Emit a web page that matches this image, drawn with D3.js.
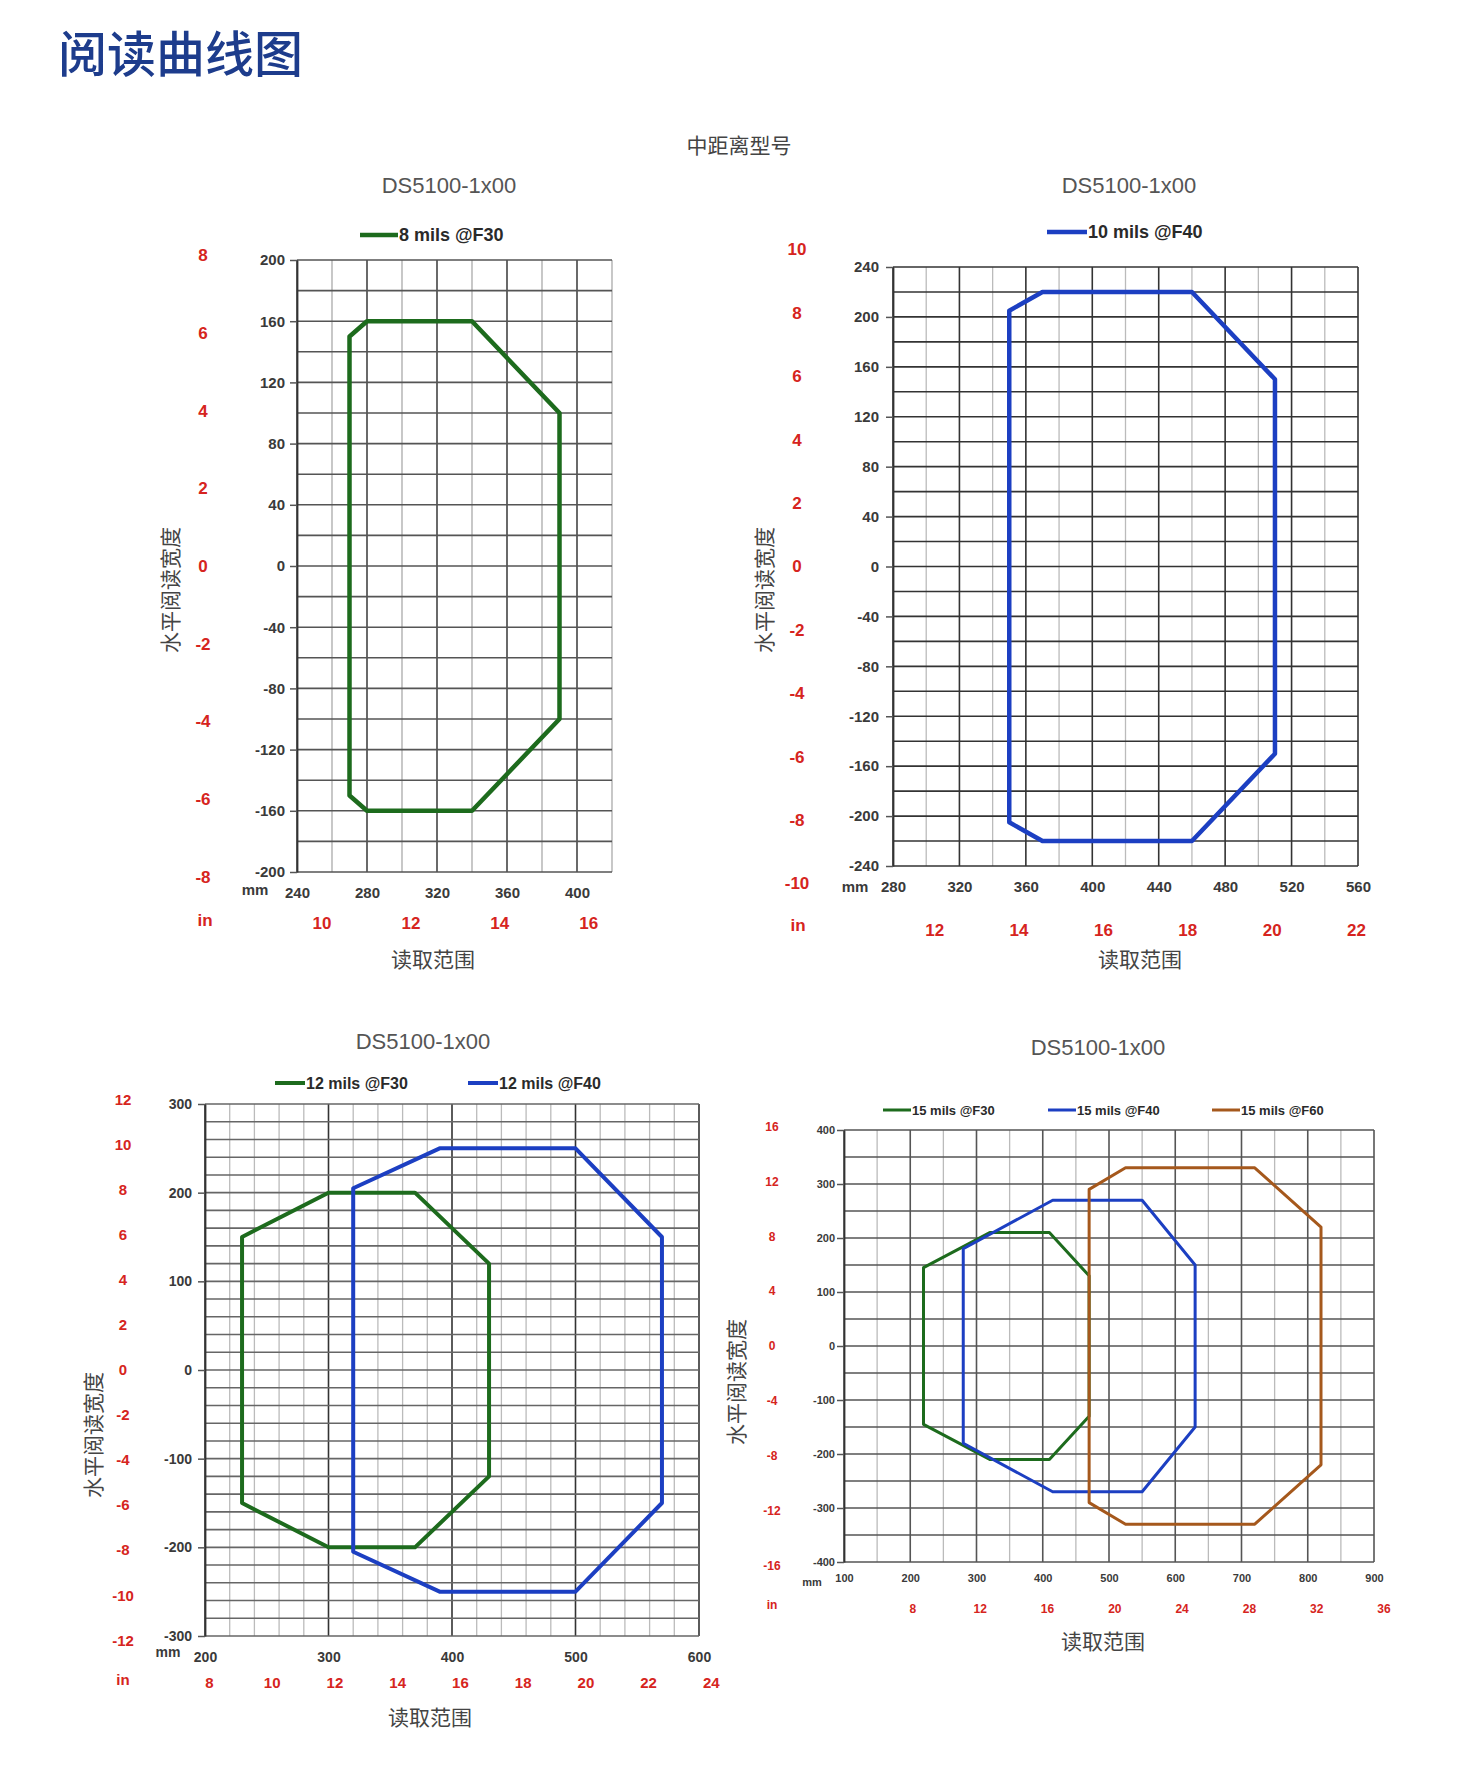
<!DOCTYPE html>
<html>
<head>
<meta charset="utf-8">
<script src="https://cdn.jsdelivr.net/npm/d3@7"></script>
<style>
  body { margin: 0; background: #fff; }
  svg { display: block; }
</style>
</head>
<body>
<svg id="chart" width="1471" height="1777"></svg>
<script>
// ---- 数据 ----
// 图1 : 8 mils
const c1Series = ["8 mils @F30"];
const c1F30 = [[270, 150], [280, 160], [340, 160], [390, 100], [390, -100], [340, -160], [280, -160], [270, -150]];
const c1MmX = [240, 280, 320, 360, 400];
const c1MmY = [200, 160, 120, 80, 40, 0, -40, -80, -120, -160, -200];
const c1InX = [10, 12, 14, 16];
const c1InY = [8, 6, 4, 2, 0, -2, -4, -6, -8];

// 图2 : 10 mils
const c2Series = ["10 mils @F40"];
const c2F40 = [[350, 205], [370, 220], [460, 220], [510, 150], [510, -150], [460, -220], [370, -220], [350, -205]];
const c2MmX = [280, 320, 360, 400, 440, 480, 520, 560];
const c2MmY = [240, 200, 160, 120, 80, 40, 0, -40, -80, -120, -160, -200, -240];
const c2InX = [12, 14, 16, 18, 20, 22];
const c2InY = [10, 8, 6, 4, 2, 0, -2, -4, -6, -8, -10];

// 图3 : 12 mils
const c3Series = ["12 mils @F30", "12 mils @F40"];
const c3F30 = [[230, 150], [300, 200], [370, 200], [430, 120], [430, -120], [370, -200], [300, -200], [230, -150]];
const c3F40 = [[320, 205], [390, 250], [500, 250], [570, 150], [570, -150], [500, -250], [390, -250], [320, -205]];
const c3MmX = [200, 300, 400, 500, 600];
const c3MmY = [300, 200, 100, 0, -100, -200, -300];
const c3InX = [8, 10, 12, 14, 16, 18, 20, 22, 24];
const c3InY = [12, 10, 8, 6, 4, 2, 0, -2, -4, -6, -8, -10, -12];

// 图4 : 15 mils
const c4Series = ["15 mils @F30", "15 mils @F40", "15 mils @F60"];
const c4F30 = [[220, 145], [320, 210], [410, 210], [470, 130], [470, -130], [410, -210], [320, -210], [220, -145]];
const c4F40 = [[280, 180], [415, 270], [550, 270], [630, 150], [630, -150], [550, -270], [415, -270], [280, -180]];
const c4F60 = [[470, 290], [525, 330], [720, 330], [820, 220], [820, -220], [720, -330], [525, -330], [470, -290]];
const c4MmX = [100, 200, 300, 400, 500, 600, 700, 800, 900];
const c4MmY = [400, 300, 200, 100, 0, -100, -200, -300, -400];
const c4InX = [8, 12, 16, 20, 24, 28, 32, 36];
const c4InY = [16, 12, 8, 4, 0, -4, -8, -12, -16];

const MM_PER_IN = 25.4;
const GREEN = "#1d6b1d", BLUE = "#1c3fc2", BROWN = "#a5581c";
const NUM_FONT = "'Liberation Sans', Arial, sans-serif";
const CJK_FONT = "'Noto Sans CJK SC', sans-serif";
const plain = d => String(d);   // 原图用普通连字符作负号

const svg = d3.select("#chart");
svg.append("rect").attr("width", 1471).attr("height", 1777).attr("fill", "#fff");

svg.append("text")
    .attr("x", 58).attr("y", 72)
    .attr("font-family", CJK_FONT).attr("font-size", 49).attr("font-weight", 500)
    .attr("fill", "#1d3c8c")
    .text("阅读曲线图");

svg.append("text")
    .attr("x", 739).attr("y", 153)
    .attr("text-anchor", "middle")
    .attr("font-family", CJK_FONT).attr("font-size", 21)
    .attr("fill", "#444")
    .text("中距离型号");

function drawChart(cfg) {
    const g = svg.append("g");
    const x = d3.scaleLinear().domain(cfg.xDomain).range([cfg.left, cfg.right]);
    const y = d3.scaleLinear().domain(cfg.yDomain).range([cfg.bottom, cfg.top]);
    const xIn = d3.scaleLinear().domain(cfg.xDomain.map(d => d / MM_PER_IN)).range(x.range());
    const yIn = d3.scaleLinear().domain(cfg.yDomain.map(d => d / MM_PER_IN)).range(y.range());

    // 网格
    const vLines = d3.range(cfg.xDomain[0], cfg.xDomain[1] + 0.001, cfg.xStep);
    const hLines = d3.range(cfg.yDomain[0], cfg.yDomain[1] + 0.001, cfg.yStep);
    g.append("g").selectAll("line").data(vLines).join("line")
        .attr("x1", d => x(d)).attr("x2", d => x(d))
        .attr("y1", cfg.top).attr("y2", cfg.bottom)
        .attr("stroke", d => (d - cfg.xDomain[0]) % cfg.xMajor === 0 ? cfg.vMajor : cfg.vMinor)
        .attr("stroke-width", d => (d - cfg.xDomain[0]) % cfg.xMajor === 0 ? 1.6 : 1.3);
    g.append("g").selectAll("line").data(hLines).join("line")
        .attr("x1", cfg.left).attr("x2", cfg.right)
        .attr("y1", d => y(d)).attr("y2", d => y(d))
        .attr("stroke", cfg.hColor)
        .attr("stroke-width", 1.6);

    // 左侧 mm 轴
    const tick = 7;
    g.append("g")
        .attr("transform", `translate(${cfg.left},0)`)
        .call(d3.axisLeft(y).tickValues(cfg.mmY).tickFormat(plain).tickSize(tick).tickSizeOuter(0)
            .tickPadding(cfg.left - cfg.yLabelX - tick))
        .call(a => a.select(".domain").attr("stroke", "#333").attr("stroke-width", 1.8))
        .call(a => a.selectAll(".tick line").attr("stroke", "#555").attr("stroke-width", 1.5))
        .call(a => a.selectAll("text")
            .attr("font-family", NUM_FONT).attr("font-size", cfg.tickFont)
            .attr("font-weight", "bold").attr("fill", "#3a3a3a"));

    // 底部 mm 轴
    g.append("g")
        .attr("transform", `translate(0,${cfg.xLabelY})`)
        .call(d3.axisBottom(x).tickValues(cfg.mmX).tickSize(0).tickFormat(plain))
        .call(a => a.select(".domain").remove())
        .call(a => a.selectAll("text")
            .attr("y", 0).attr("dy", "0.35em")
            .attr("font-family", NUM_FONT).attr("font-size", cfg.tickFont)
            .attr("font-weight", "bold").attr("fill", "#3a3a3a"));

    // 英寸轴（红色）
    g.append("g")
        .attr("transform", `translate(${cfg.inYX},0)`)
        .call(d3.axisLeft(yIn).tickValues(cfg.inY).tickFormat(plain).tickSize(0).tickPadding(0))
        .call(a => a.select(".domain").remove())
        .call(a => a.selectAll("text")
            .attr("x", 0).attr("text-anchor", "middle")
            .attr("font-family", NUM_FONT).attr("font-size", cfg.inFont)
            .attr("font-weight", "bold").attr("fill", "#d62420"));
    g.append("g")
        .attr("transform", `translate(0,${cfg.inXLabelY})`)
        .call(d3.axisBottom(xIn).tickValues(cfg.inX).tickFormat(plain).tickSize(0))
        .call(a => a.select(".domain").remove())
        .call(a => a.selectAll("text")
            .attr("y", 0).attr("dy", "0.35em")
            .attr("font-family", NUM_FONT).attr("font-size", cfg.inFont)
            .attr("font-weight", "bold").attr("fill", "#d62420"));

    // 单位
    g.append("text")
        .attr("x", cfg.mmPos[0]).attr("y", cfg.mmPos[1]).attr("dy", "0.35em")
        .attr("text-anchor", "middle")
        .attr("font-family", NUM_FONT).attr("font-size", cfg.tickFont).attr("font-weight", "bold")
        .attr("fill", "#3a3a3a").text("mm");
    g.append("text")
        .attr("x", cfg.inPos[0]).attr("y", cfg.inPos[1]).attr("dy", "0.35em")
        .attr("text-anchor", "middle")
        .attr("font-family", NUM_FONT).attr("font-size", cfg.inFont).attr("font-weight", "bold")
        .attr("fill", "#d62420").text("in");

    // 标题
    g.append("text")
        .attr("x", cfg.titlePos[0]).attr("y", cfg.titlePos[1]).attr("dy", "0.35em")
        .attr("text-anchor", "middle")
        .attr("font-family", NUM_FONT).attr("font-size", 22)
        .attr("fill", "#555").text("DS5100-1x00");
    g.append("text")
        .attr("x", cfg.xTitlePos[0]).attr("y", cfg.xTitlePos[1]).attr("dy", "0.35em")
        .attr("text-anchor", "middle")
        .attr("font-family", CJK_FONT).attr("font-size", 21)
        .attr("fill", "#444").text("读取范围");
    g.append("text")
        .attr("transform", `translate(${cfg.yTitlePos[0]},${cfg.yTitlePos[1]}) rotate(-90)`)
        .attr("dy", "0.35em")
        .attr("text-anchor", "middle")
        .attr("font-family", CJK_FONT).attr("font-size", 21)
        .attr("fill", "#444").text("水平阅读宽度");

    // 曲线
    const line = d3.line()
        .x(d => x(d[0])).y(d => y(d[1]))
        .curve(d3.curveLinearClosed);
    cfg.series.forEach((s, i) => {
        g.append("path")
            .attr("d", line(s.points))
            .attr("fill", "none")
            .attr("stroke", s.color)
            .attr("stroke-width", cfg.lineWidth)
            .attr("stroke-linejoin", "round");

        // 图例
        const lx = cfg.legendX[i];
        g.append("line")
            .attr("x1", lx).attr("x2", lx + cfg.legendLen)
            .attr("y1", cfg.legendY).attr("y2", cfg.legendY)
            .attr("stroke", s.color).attr("stroke-width", cfg.lineWidth);
        g.append("text")
            .attr("x", lx + cfg.legendLen + 1).attr("y", cfg.legendY).attr("dy", "0.35em")
            .attr("font-family", NUM_FONT).attr("font-size", cfg.legendFont).attr("font-weight", "bold")
            .attr("fill", "#2a2a2a").text(s.name);
    });
}

drawChart({
    left: 297, right: 612, top: 260, bottom: 872,
    xDomain: [240, 420], yDomain: [-200, 200], xStep: 20, xMajor: 40, yStep: 20,
    hColor: "#555", vMajor: "#444", vMinor: "#aaa",
    mmX: c1MmX, mmY: c1MmY, inX: c1InX, inY: c1InY,
    yLabelX: 285, xLabelY: 893, inYX: 203, inXLabelY: 923,
    mmPos: [255, 890], inPos: [205, 920],
    titlePos: [449, 185], xTitlePos: [433, 960], yTitlePos: [171, 590],
    tickFont: 15, inFont: 17, legendFont: 18, lineWidth: 4.5,
    legendY: 235, legendX: [360], legendLen: 38,
    series: [{ name: c1Series[0], points: c1F30, color: GREEN }]
});

drawChart({
    left: 893, right: 1358, top: 267, bottom: 866,
    xDomain: [280, 560], yDomain: [-240, 240], xStep: 20, xMajor: 40, yStep: 20,
    hColor: "#333", vMajor: "#333", vMinor: "#bbb",
    mmX: c2MmX, mmY: c2MmY, inX: c2InX, inY: c2InY,
    yLabelX: 879, xLabelY: 887, inYX: 797, inXLabelY: 930,
    mmPos: [855, 887], inPos: [798, 925],
    titlePos: [1129, 185], xTitlePos: [1140, 960], yTitlePos: [765, 590],
    tickFont: 15, inFont: 17, legendFont: 18, lineWidth: 4.5,
    legendY: 232, legendX: [1047], legendLen: 40,
    series: [{ name: c2Series[0], points: c2F40, color: BLUE }]
});

drawChart({
    left: 205, right: 699, top: 1104, bottom: 1636,
    xDomain: [200, 600], yDomain: [-300, 300], xStep: 20, xMajor: 100, yStep: 20,
    hColor: "#666", vMajor: "#333", vMinor: "#bbb",
    mmX: c3MmX, mmY: c3MmY, inX: c3InX, inY: c3InY,
    yLabelX: 192, xLabelY: 1657, inYX: 123, inXLabelY: 1683,
    mmPos: [168, 1652], inPos: [123, 1680],
    titlePos: [423, 1041], xTitlePos: [430, 1718], yTitlePos: [94, 1435],
    tickFont: 14, inFont: 15, legendFont: 16, lineWidth: 4,
    legendY: 1083, legendX: [275, 468], legendLen: 30,
    series: [
        { name: c3Series[0], points: c3F30, color: GREEN },
        { name: c3Series[1], points: c3F40, color: BLUE }
    ]
});

drawChart({
    left: 844, right: 1374, top: 1130, bottom: 1562,
    xDomain: [100, 900], yDomain: [-400, 400], xStep: 50, xMajor: 100, yStep: 50,
    hColor: "#555", vMajor: "#555", vMinor: "#bbb",
    mmX: c4MmX, mmY: c4MmY, inX: c4InX, inY: c4InY,
    yLabelX: 835, xLabelY: 1578, inYX: 772, inXLabelY: 1609,
    mmPos: [812, 1582], inPos: [772, 1605],
    titlePos: [1098, 1047], xTitlePos: [1103, 1642], yTitlePos: [737, 1382],
    tickFont: 11, inFont: 12, legendFont: 13, lineWidth: 3,
    legendY: 1110, legendX: [883, 1048, 1212], legendLen: 28,
    series: [
        { name: c4Series[0], points: c4F30, color: GREEN },
        { name: c4Series[1], points: c4F40, color: BLUE },
        { name: c4Series[2], points: c4F60, color: BROWN }
    ]
});
</script>
</body>
</html>
